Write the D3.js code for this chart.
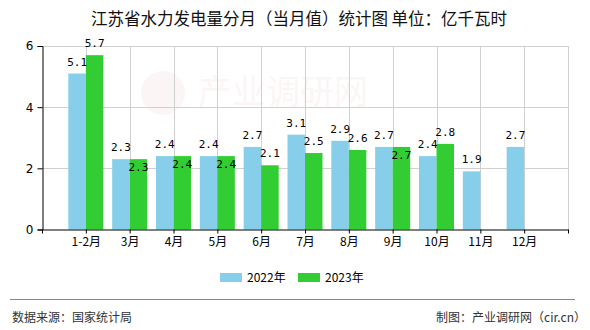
<!DOCTYPE html>
<html>
<head>
<meta charset="utf-8">
<script src="https://cdn.jsdelivr.net/npm/d3@7"></script>
<style>
  html, body { margin: 0; padding: 0; background: #fff; }
  svg { display: block; font-family: "Noto Sans CJK SC", "Noto Sans", sans-serif; }
</style>
</head>
<body>
<svg id="chart" width="590" height="330"></svg>
<script>
// Monthly hydropower generation in Jiangsu (100 million kWh)
const categories = ["1-2月", "3月", "4月", "5月", "6月", "7月", "8月", "9月", "10月", "11月", "12月"];
const values2022 = [5.1, 2.3, 2.4, 2.4, 2.7, 3.1, 2.9, 2.7, 2.4, 1.9, 2.7];
const values2023 = [5.7, 2.3, 2.4, 2.4, 2.1, 2.5, 2.6, 2.7, 2.8, null, null];
const seriesNames = ["2022年", "2023年"];
const seriesColors = ["#87CEEB", "#32CD32"];
const yTicks = [0, 2, 4, 6];

const svg = d3.select("#chart");
const plotLeft = 42, plotRight = 568, plotTop = 46, plotBottom = 229.5;
const cjkFont = "'Noto Sans CJK SC', 'Noto Sans', sans-serif";
const labelFont = "'DejaVu Sans Mono', 'Liberation Mono', monospace";

// Index axis: slot 0 and the last slot are empty ends, categories sit on slots 1..11
const x = d3.scaleLinear().domain([0, categories.length + 1]).range([plotLeft, plotRight]);
const y = d3.scaleLinear().domain([0, 6]).range([plotBottom, plotTop]);
const barW = 17.5;

// Title
svg.append("text")
  .attr("x", 299).attr("y", 25)
  .attr("text-anchor", "middle")
  .style("font-family", cjkFont)
  .style("font-size", "16.5px")
  .attr("fill", "#111")
  .text("江苏省水力发电量分月（当月值）统计图 单位：亿千瓦时");

// Faint watermark
const wm = svg.append("g").attr("opacity", 0.045);
wm.append("circle").attr("cx", 163).attr("cy", 93).attr("r", 22).attr("fill", "#c0392b");
wm.append("text").attr("x", 198).attr("y", 104).style("font-size", "34px")
  .style("font-family", cjkFont).attr("fill", "#c0392b").text("产业调研网");

// Gridlines
const grid = svg.append("g").attr("stroke", "#d0d0d0").attr("stroke-width", 1);
grid.selectAll("line.h").data(yTicks.filter(d => d > 0)).join("line")
  .attr("class", "h")
  .attr("x1", plotLeft).attr("x2", plotRight)
  .attr("y1", d => Math.round(y(d)) + 0.5).attr("y2", d => Math.round(y(d)) + 0.5);
grid.selectAll("line.v").data(d3.range(1, categories.length + 2)).join("line")
  .attr("class", "v")
  .attr("x1", d => Math.round(x(d)) + 0.5).attr("x2", d => Math.round(x(d)) + 0.5)
  .attr("y1", plotTop).attr("y2", plotBottom);

// Bars
const series = [values2022, values2023];
series.forEach((vals, s) => {
  svg.append("g").selectAll("rect")
    .data(vals.map((v, i) => ({ v, i })).filter(d => d.v != null))
    .join("rect")
    .attr("x", d => x(d.i + 1) + (s === 0 ? -barW : 0))
    .attr("width", barW)
    .attr("y", d => y(d.v))
    .attr("height", d => plotBottom - y(d.v))
    .attr("fill", seriesColors[s]);
});

// Value labels (second series drops inside the bar when both values coincide)
series.forEach((vals, s) => {
  svg.append("g").selectAll("text")
    .data(vals.map((v, i) => ({ v, i })).filter(d => d.v != null))
    .join("text")
    .attr("x", d => x(d.i + 1) + (s === 0 ? -barW / 2 : barW / 2))
    .attr("y", d => {
      const clash = s === 1 && values2022[d.i] != null && Math.abs(values2022[d.i] - d.v) < 0.05;
      return clash ? y(d.v) + 12 : y(d.v) - 8;
    })
    .attr("text-anchor", "middle")
    .style("font-family", labelFont)
    .style("font-size", "11px")
    .attr("fill", "#000")
    .text(d => d.v.toFixed(1));
});

// Y axis
const yAxis = svg.append("g")
  .attr("transform", `translate(${plotLeft + 0.5},0)`)
  .call(d3.axisLeft(y).tickValues(yTicks).tickSize(5).tickPadding(4).tickFormat(d3.format("d")));
yAxis.select(".domain").attr("stroke", "#000");
yAxis.selectAll(".tick line").attr("stroke", "#000");
yAxis.selectAll("text").style("font-size", "12px").attr("fill", "#000")
  .style("font-family", "'DejaVu Sans', sans-serif");

// X axis
const xAxis = svg.append("g")
  .attr("transform", `translate(0,${plotBottom})`)
  .call(d3.axisBottom(x)
    .tickValues(d3.range(0, categories.length + 2))
    .tickSize(4).tickSizeOuter(0).tickPadding(4)
    .tickFormat(i => categories[i - 1] || ""));
xAxis.select(".domain").attr("stroke", "#000");
xAxis.selectAll(".tick line").attr("stroke", "#000");
xAxis.selectAll("text").style("font-size", "12px").style("font-family", cjkFont).attr("fill", "#000");

// Legend
const legendX = [220, 298];
seriesNames.forEach((name, s) => {
  svg.append("rect").attr("x", legendX[s]).attr("y", 273).attr("width", 22).attr("height", 9)
    .attr("fill", seriesColors[s]);
  svg.append("text").attr("x", legendX[s] + 27).attr("y", 282)
    .style("font-size", "12px").style("font-family", cjkFont).attr("fill", "#000").text(name);
});

// Footer
svg.append("line").attr("x1", 10).attr("x2", 575).attr("y1", 299.5).attr("y2", 299.5)
  .attr("stroke", "#888").attr("stroke-width", 1);
svg.append("text").attr("x", 12).attr("y", 322).style("font-size", "12px")
  .style("font-family", cjkFont).attr("fill", "#333")
  .text("数据来源：国家统计局");
svg.append("text").attr("x", 586).attr("y", 322).attr("text-anchor", "end")
  .style("font-size", "12px").style("font-family", cjkFont)
  .attr("fill", "#333").text("制图：产业调研网（cir.cn）");
</script>
</body>
</html>
